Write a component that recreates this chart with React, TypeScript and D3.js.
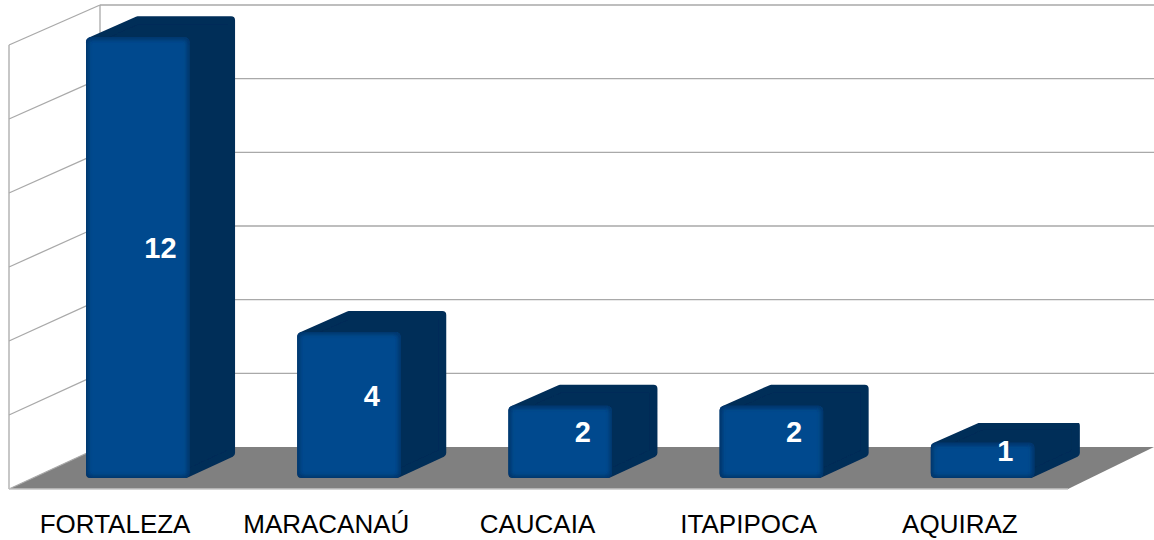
import React from "react";
import * as d3 from "d3";

const categories = ["FORTALEZA", "MARACANAÚ", "CAUCAIA", "ITAPIPOCA", "AQUIRAZ"];
const values = [12, 4, 2, 2, 1];
const gridTicks = [0, 2, 4, 6, 8, 10, 12];

const W = 1154;
const H = 540;
const frontLeft = 9;
const frontBottom = 489;
const frontTop = 45;
const backLeft = 100;
const backBottom = 447;
const backTop = 5;
const floorBackRight = 1154;
const floorFrontRight = 1068;
const barDepthX = 45.5;
const barDepthY = -21;
const barBase = 478;

const xBand = d3.scaleBand<string>().domain(categories).range([9.5, 1065.5]);
const frontY = d3.scaleLinear().domain([0, 12]).range([frontBottom, frontTop]);
const backY = d3.scaleLinear().domain([0, 12]).range([backBottom, backTop]);
const barHeight = d3.scaleLinear().domain([0, 12]).range([-1.5, 440.7]);
const line = d3.line<[number, number]>();
const barWidth = 103.5;
const barShift = 22.7;
const gridColor = "#a9a9a9";

export default function App() {
  const floor: [number, number][] = [
    [frontLeft, frontBottom],
    [backLeft, backBottom],
    [floorBackRight, backBottom],
    [floorFrontRight, frontBottom],
  ];
  return (
    <svg
      width={W}
      height={H}
      viewBox={`0 0 ${W} ${H}`}
      style={{ position: "absolute", left: 0, top: 0, background: "#fff" }}
    >
      <defs>
        <filter id="soft" x="-20%" y="-20%" width="140%" height="140%">
          <feGaussianBlur stdDeviation="2.2" />
        </filter>
        <filter id="aa" x="-5%" y="-5%" width="110%" height="110%">
          <feGaussianBlur stdDeviation="0.45" />
        </filter>
      </defs>

      <path d={line(floor) + "Z"} fill="#808080" filter="url(#aa)" />

      {gridTicks.map((t) => (
        <g key={t} stroke={gridColor} strokeWidth={1.3} fill="none">
          <path d={line([[frontLeft, frontY(t)], [backLeft, backY(t)]]) ?? ""} />
          {t > 0 && <path d={line([[backLeft, backY(t)], [W, backY(t)]]) ?? ""} />}
        </g>
      ))}
      <g stroke={gridColor} strokeWidth={1.3} fill="none">
        <path d={line([[frontLeft, frontTop], [frontLeft, frontBottom]]) ?? ""} />
        <path d={line([[backLeft, backTop], [backLeft, backBottom]]) ?? ""} />
        <path d={line([[frontLeft, frontBottom], [floorFrontRight, frontBottom]]) ?? ""} stroke="#c4c4c4" />
      </g>

      {categories.map((c, i) => {
        const center = (xBand(c) ?? 0) + xBand.bandwidth() / 2 + barShift;
        const x0 = center - barWidth / 2;
        const x1 = center + barWidth / 2;
        const top = barBase - barHeight(values[i]);
        const inset = 4;
        const hull: [number, number][] = [
          [x0 + inset, top + inset],
          [x0 + barDepthX + inset + 2, top + barDepthY + inset],
          [x1 + barDepthX - inset, top + barDepthY + inset],
          [x1 + barDepthX - inset, barBase + barDepthY - inset],
          [x1 - inset, barBase - inset],
          [x0 + inset, barBase - inset],
        ];
        const clipId = `front-${i}`;
        return (
          <g key={c} filter="url(#aa)">
            <path
              d={line(hull) + "Z"}
              fill="#022d58"
              stroke="#022d58"
              strokeWidth={inset * 2}
              strokeLinejoin="round"
            />
            <clipPath id={clipId}>
              <rect x={x0} y={top} width={barWidth} height={barBase - top} rx={5} />
            </clipPath>
            <rect x={x0} y={top} width={barWidth} height={barBase - top} rx={5} fill="#014a8e" />
            <g clipPath={`url(#${clipId})`}>
              <rect
                x={x0}
                y={top}
                width={barWidth}
                height={barBase - top}
                rx={5}
                fill="none"
                stroke="#012f5e"
                strokeWidth={4}
                filter="url(#soft)"
              />
            </g>
          </g>
        );
      })}

      {categories.map((c, i) => {
        const center = (xBand(c) ?? 0) + xBand.bandwidth() / 2;
        const top = barBase - barHeight(values[i]);
        return (
          <text
            key={c}
            x={center + barShift * 2}
            y={(top + barBase + barDepthY) / 2 + 11}
            textAnchor="middle"
            fontFamily="'Liberation Sans', Arial, sans-serif"
            fontWeight={700}
            fontSize={29}
            fill="#ffffff"
          >
            {values[i]}
          </text>
        );
      })}

      {categories.map((c) => (
        <text
          key={c}
          x={(xBand(c) ?? 0) + xBand.bandwidth() / 2}
          y={533}
          textAnchor="middle"
          fontFamily="'Liberation Sans', Arial, sans-serif"
          fontSize={26}
          fill="#000000"
        >
          {c}
        </text>
      ))}
    </svg>
  );
}
